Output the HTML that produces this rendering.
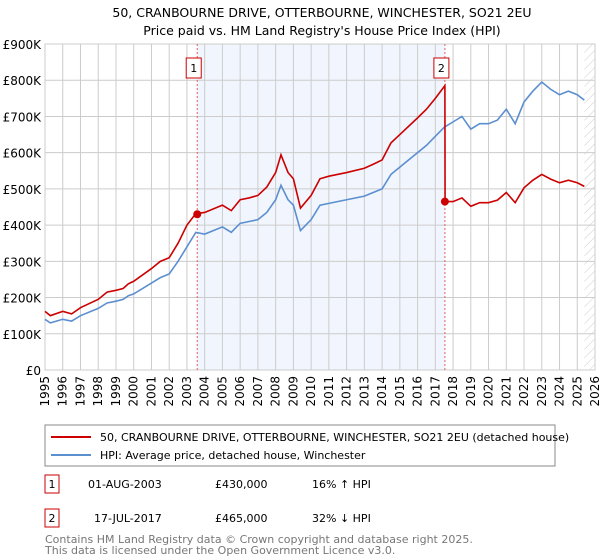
<!DOCTYPE html>
<html><head><meta charset="utf-8"><style>
body{margin:0;background:#fff;font-family:"DejaVu Sans","Liberation Sans",sans-serif;}
svg{display:block}
</style></head><body>
<svg width="600" height="560" xmlns="http://www.w3.org/2000/svg" font-family="DejaVu Sans, Liberation Sans, sans-serif">
<text x="322" y="17" text-anchor="middle" font-size="12.5">50, CRANBOURNE DRIVE, OTTERBOURNE, WINCHESTER, SO21 2EU</text>
<text x="322" y="35" text-anchor="middle" font-size="12.5">Price paid vs. HM Land Registry's House Price Index (HPI)</text>
<defs><pattern id="hatch" width="6" height="6" patternUnits="userSpaceOnUse" patternTransform="rotate(45)"><line x1="0" y1="0" x2="0" y2="6" stroke="#ccc" stroke-width="1"/></pattern></defs>
<g id="plot"></g>
<g>
<rect x="45" y="425" width="510" height="41" fill="#fff" stroke="#888"/>
<line x1="51" y1="437" x2="91" y2="437" stroke="#cc0000" stroke-width="2"/>
<text x="100" y="441" font-size="11">50, CRANBOURNE DRIVE, OTTERBOURNE, WINCHESTER, SO21 2EU (detached house)</text>
<line x1="51" y1="455" x2="91" y2="455" stroke="#5b8fd0" stroke-width="2"/>
<text x="100" y="459" font-size="11">HPI: Average price, detached house, Winchester</text>
</g>
<g font-size="11">
<rect x="45" y="475" width="14" height="18" fill="#fff" stroke="#cc0000"/>
<text x="52" y="488" text-anchor="middle">1</text>
<text x="88" y="488">01-AUG-2003</text>
<text x="215" y="488">£430,000</text>
<text x="312" y="488">16% ↑ HPI</text>
<rect x="45" y="509" width="14" height="18" fill="#fff" stroke="#cc0000"/>
<text x="52" y="522" text-anchor="middle">2</text>
<text x="94" y="522">17-JUL-2017</text>
<text x="215" y="522">£465,000</text>
<text x="312" y="522">32% ↓ HPI</text>
</g>
<text x="45" y="543" font-size="11" fill="#777">Contains HM Land Registry data © Crown copyright and database right 2025.</text>
<text x="45" y="554" font-size="11" fill="#777">This data is licensed under the Open Government Licence v3.0.</text>
</svg>
<script>
const yTicks=[0,100,200,300,400,500,600,700,800,900];
const yearTicks=[1995,1996,1997,1998,1999,2000,2001,2002,2003,2004,2005,2006,2007,2008,2009,2010,2011,2012,2013,2014,2015,2016,2017,2018,2019,2020,2021,2022,2023,2024,2025,2026];
const hpiT=[1995,1995.3,1996,1996.5,1997,1998,1998.5,1999,1999.4,1999.7,2000,2001,2001.5,2002,2002.5,2003,2003.5,2004,2005,2005.5,2006,2006.5,2007,2007.5,2008,2008.3,2008.7,2009,2009.4,2010,2010.5,2011,2012,2013,2013.5,2014,2014.5,2015,2016,2016.5,2017,2017.5,2018,2018.5,2019,2019.5,2020,2020.5,2021,2021.5,2022,2022.5,2023,2023.5,2024,2024.5,2025,2025.4];
const hpiV=[140,130,140,135,150,170,185,190,195,205,210,240,255,265,300,340,380,375,395,380,405,410,415,435,470,510,470,455,385,415,455,460,470,480,490,500,540,560,600,620,645,670,685,700,665,680,680,690,720,680,740,770,795,775,760,770,760,745];
const priceT=[1995,1995.3,1996,1996.5,1997,1998,1998.5,1999,1999.4,1999.7,2000,2001,2001.5,2002,2002.5,2003,2003.5,2004,2005,2005.5,2006,2006.5,2007,2007.5,2008,2008.3,2008.7,2009,2009.4,2010,2010.5,2011,2012,2013,2013.5,2014,2014.5,2015,2016,2016.5,2017,2017.54,2017.55,2018,2018.5,2019,2019.5,2020,2020.5,2021,2021.5,2022,2022.5,2023,2023.5,2024,2024.5,2025,2025.4];
const priceV=[162,150,162,155,172,195,215,220,225,238,245,280,300,310,350,400,432,435,455,440,470,475,482,505,545,594,545,528,447,482,528,535,545,557,568,580,627,650,696,720,750,785,465,465,475,452,462,462,469,490,462,503,524,540,527,517,524,517,507];
const saleT=[2003.58,2017.54];
const saleV=[430,465];
const saleLabels=["1","2"];

const X0=45,X1=595,Y0=370,Y1=44;
const xs=t=>X0+(t-1995)/(2026-1995)*(X1-X0);
const ys=v=>Y0-v/900*(Y0-Y1);
const NS="http://www.w3.org/2000/svg";
const g=document.getElementById('plot');
function mk(tag,attrs){const e=document.createElementNS(NS,tag);for(const k in attrs)e.setAttribute(k,attrs[k]);g.appendChild(e);return e;}
let e;
e=mk('rect',{x:xs(saleT[0]),y:Y1,width:xs(saleT[1])-xs(saleT[0]),height:Y0-Y1,fill:'#eef3fc',opacity:0.8});


e=mk('rect',{x:xs(2025.4),y:Y1,width:X1-xs(2025.4),height:Y0-Y1,fill:'url(#hatch)'});


yTicks.forEach(v=>{
 e=mk('line',{x1:X0,x2:X1,y1:ys(v*1),y2:ys(v*1),stroke:'#ccc','stroke-width':1});
 
 
 e=mk('text',{x:X0-4,y:ys(v)+5,'text-anchor':'end','font-size':12});
 e.textContent=v===0?'£0':'£'+v+'K';
 
 
});
yearTicks.forEach(t=>{
 e=mk('line',{x1:xs(t),x2:xs(t),y1:Y1,y2:Y0,stroke:'#ccc','stroke-width':1});
 
 
 const x=xs(t)+4,y=Y0+6;
 e=mk('text',{x:x,y:y,'text-anchor':'end','font-size':12,transform:`rotate(-90 ${x} ${y})`});
 e.textContent=t;
 
 
});
e=mk('rect',{x:X0,y:Y1,width:X1-X0,height:Y0-Y1,fill:'none',stroke:'#ccc'});


saleT.forEach((t,i)=>{
 e=mk('line',{x1:xs(t),x2:xs(t),y1:Y1,y2:Y0,stroke:'#e06060','stroke-dasharray':'2,2','stroke-width':1});
 
 
});
e=mk('polyline',{points:hpiT.map((t,i)=>xs(t)+','+ys(hpiV[i])).join(' '),fill:'none',stroke:'#5b8fd0','stroke-width':1.6});


e=mk('polyline',{points:priceT.map((t,i)=>xs(t)+','+ys(priceV[i])).join(' '),fill:'none',stroke:'#cc0000','stroke-width':1.6});


saleT.forEach((t,i)=>{
 e=mk('circle',{cx:xs(t),cy:ys(saleV[i]),r:4,fill:'#cc0000'});
 
 
 e=mk('rect',{x:xs(t)-11,y:58,width:15,height:20,fill:'#fff',stroke:'#cc0000'});
 
 
 e=mk('text',{x:xs(t)-3.5,y:72,'text-anchor':'middle','font-size':11});
 e.textContent=saleLabels[i];
 
 
});
</script>
</body></html>
